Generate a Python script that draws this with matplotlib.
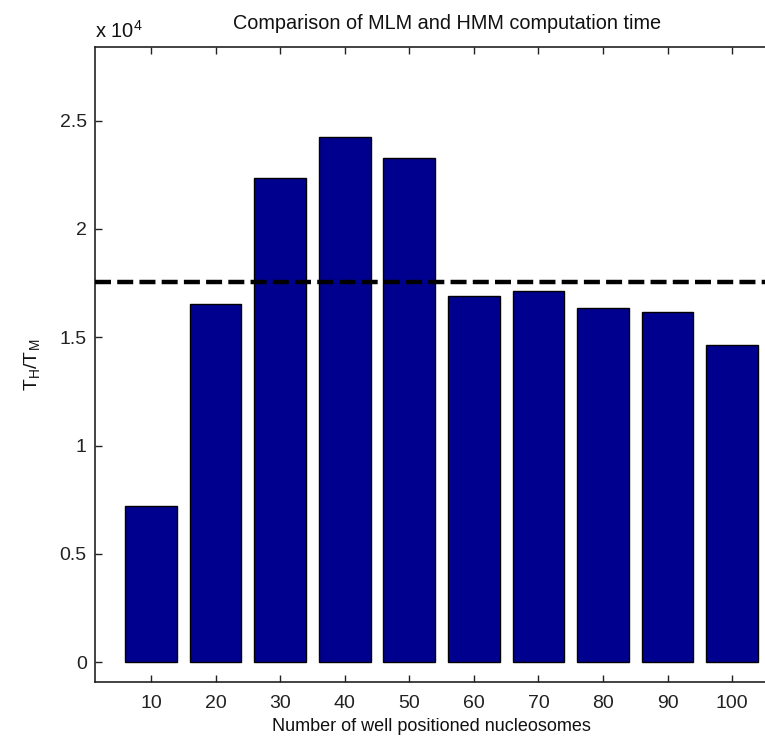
import matplotlib
matplotlib.use("Agg")
import matplotlib.pyplot as plt
from matplotlib.ticker import FuncFormatter

# data (ratio T_H / T_M)
nucleosomes = [10, 20, 30, 40, 50, 60, 70, 80, 90, 100]
ratio = [7210, 16530, 22350, 24250, 23270, 16890, 17120, 16360, 16150, 14630]
mean_ratio = 17540

plt.rcParams['font.family'] = ['Liberation Sans', 'DejaVu Sans']

fig = plt.figure(figsize=(7.65, 7.44), dpi=100)
ax = fig.add_axes([95 / 765, 1 - 682 / 744, 672 / 765, 635 / 744])

ax.bar(nucleosomes, ratio, width=8, color='#00008F', edgecolor='black', linewidth=1.0, zorder=2)
ax.axhline(mean_ratio, color='black', linewidth=3.2, linestyle=(0, (3.6, 1.4)), zorder=3)

ax.set_xlim(1.33, 105.4)
ax.set_ylim(-910, 28400)
ax.set_xticks(nucleosomes)
ax.set_yticks([0, 5000, 10000, 15000, 20000, 25000])
ax.yaxis.set_major_formatter(FuncFormatter(lambda v, p: f"{v / 1e4:g}"))

ax.tick_params(direction='in', length=5, width=1, labelsize=14, top=True, right=False,
               colors='#222222', pad=6)
ax.tick_params(axis='x', pad=9)
for s in ax.spines.values():
    s.set_linewidth(1.2)
    s.set_color('#222222')

ax.set_title("Comparison of MLM and HMM computation time", fontsize=14.3, pad=13,
             color='#111111', x=0.524)
ax.set_xlabel("Number of well positioned nucleosomes", fontsize=13, labelpad=5, color='#111111')
ax.set_ylabel(r"T$_\mathregular{H}$/T$_\mathregular{M}$", fontsize=14, labelpad=12, color='#111111')
fig.text(95 / 765, 1 - 31 / 744, r"x 10$^\mathregular{4}$", fontsize=14.5, color='#111111', va='center')

fig.savefig("out.png", dpi=100)
